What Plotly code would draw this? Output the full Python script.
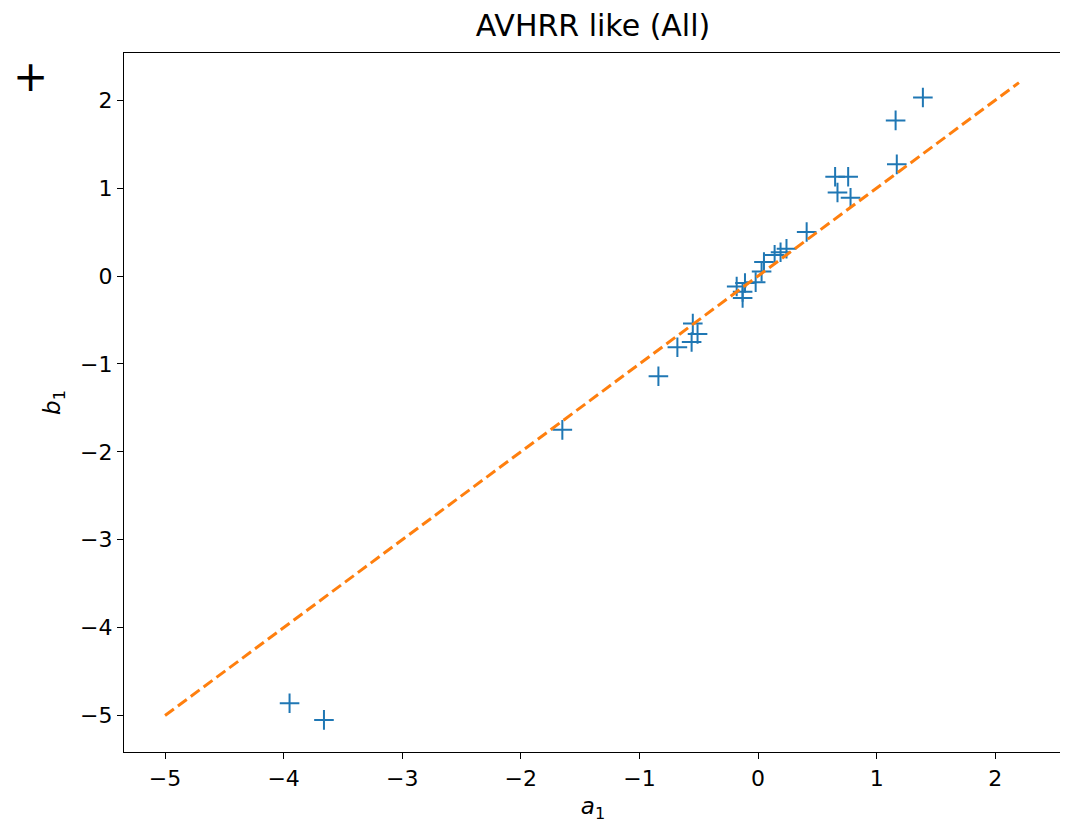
import plotly.graph_objects as go

# data
a1 = [-3.95, -3.66, -1.65, -0.84, -0.68, -0.56, -0.51, -0.55,
      -0.18, -0.11, -0.13, -0.13, -0.02, 0.03, 0.05, 0.14, 0.19, 0.24,
      0.41, 0.65, 0.76, 0.67, 0.78, 1.17, 1.16, 1.39]
b1 = [-4.86, -5.05, -1.75, -1.14, -0.81, -0.75, -0.66, -0.54,
      -0.12, -0.08, -0.18, -0.25, -0.07, 0.05, 0.16, 0.24, 0.27, 0.31,
      0.50, 1.13, 1.13, 0.95, 0.89, 1.27, 1.77, 2.03]
line_x = [-5.0, 2.2]
line_y = [-5.0, 2.2]
ticks = [-5, -4, -3, -2, -1, 0, 1, 2]
tick_text = ["\u22125", "\u22124", "\u22123", "\u22122", "\u22121", "0", "1", "2"]

fig = go.Figure()
fig.add_trace(go.Scatter(x=a1, y=b1, mode="markers",
                         marker=dict(symbol="cross-thin", size=14,
                                     line=dict(width=2, color="#1f77b4"),
                                     color="#1f77b4"),
                         showlegend=False))
fig.add_trace(go.Scatter(x=line_x, y=line_y, mode="lines",
                         line=dict(color="#ff7f0e", width=3, dash="11px,5px"),
                         showlegend=False))

axis_common = dict(showgrid=False, zeroline=False, showline=True, linecolor="black",
                   linewidth=1.3, mirror=True, ticks="outside", ticklen=6,
                   tickwidth=1.3, tickcolor="black",
                   tickfont=dict(family="DejaVu Sans", size=22, color="black"))

fig.update_layout(
    width=1060, height=821,
    margin=dict(l=116, r=6, t=45, b=77),
    plot_bgcolor="white", paper_bgcolor="white",
    font=dict(family="DejaVu Sans", color="black"),
    title=dict(text="AVHRR like (All)", x=0.5, xref="paper", xanchor="center",
               y=0.979, yanchor="middle",
               font=dict(family="DejaVu Sans", size=30, color="black")),
    xaxis=dict(range=[-5.346, 2.563], tickvals=ticks, ticktext=tick_text,
               title=dict(text="<i>a</i><sub>1</sub>", standoff=8,
                          font=dict(family="DejaVu Sans", size=23)),
               **axis_common),
    yaxis=dict(range=[-5.415, 2.537], tickvals=ticks, ticktext=tick_text,
               title=dict(text="<i>b</i><sub>1</sub>", standoff=12,
                          font=dict(family="DejaVu Sans", size=23)),
               **axis_common),
    annotations=[dict(text="+", xref="paper", yref="paper", x=-0.1002, y=0.967,
                      xanchor="center", yanchor="middle", showarrow=False,
                      font=dict(family="DejaVu Sans", size=42, color="black"))],
)

fig.write_html("out.html")
